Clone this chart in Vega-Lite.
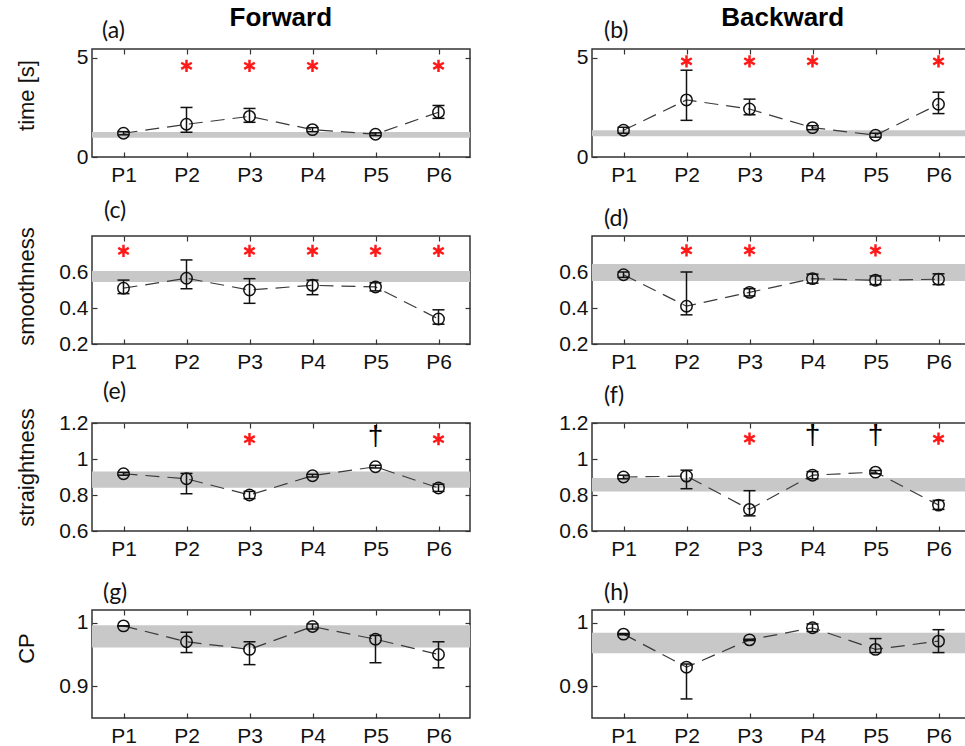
{
  "$schema": "https://vega.github.io/schema/vega-lite/v6.json",
  "background": "white",
  "padding": {"left": 14, "top": 5, "right": 0, "bottom": 0},
  "datasets": {
    "pts": [
      {"panel": "a", "p": "P1", "m": 1.2, "lo": 1.12, "hi": 1.28},
      {"panel": "a", "p": "P2", "m": 1.65, "lo": 1.25, "hi": 2.5},
      {"panel": "a", "p": "P3", "m": 2.05, "lo": 1.75, "hi": 2.45},
      {"panel": "a", "p": "P4", "m": 1.38, "lo": 1.28, "hi": 1.48},
      {"panel": "a", "p": "P5", "m": 1.15, "lo": 1.08, "hi": 1.22},
      {"panel": "a", "p": "P6", "m": 2.26, "lo": 1.95, "hi": 2.6},
      {"panel": "b", "p": "P1", "m": 1.35, "lo": 1.2, "hi": 1.5},
      {"panel": "b", "p": "P2", "m": 2.88, "lo": 1.85, "hi": 4.38},
      {"panel": "b", "p": "P3", "m": 2.42, "lo": 2.13, "hi": 2.92},
      {"panel": "b", "p": "P4", "m": 1.48, "lo": 1.38, "hi": 1.58},
      {"panel": "b", "p": "P5", "m": 1.1, "lo": 1.0, "hi": 1.2},
      {"panel": "b", "p": "P6", "m": 2.66, "lo": 2.19, "hi": 3.27},
      {"panel": "c", "p": "P1", "m": 0.51, "lo": 0.48, "hi": 0.555},
      {"panel": "c", "p": "P2", "m": 0.565, "lo": 0.507, "hi": 0.667},
      {"panel": "c", "p": "P3", "m": 0.5, "lo": 0.426, "hi": 0.563},
      {"panel": "c", "p": "P4", "m": 0.526, "lo": 0.474, "hi": 0.555},
      {"panel": "c", "p": "P5", "m": 0.517, "lo": 0.495, "hi": 0.54},
      {"panel": "c", "p": "P6", "m": 0.339, "lo": 0.31, "hi": 0.39},
      {"panel": "d", "p": "P1", "m": 0.585, "lo": 0.57, "hi": 0.6},
      {"panel": "d", "p": "P2", "m": 0.41, "lo": 0.362, "hi": 0.6},
      {"panel": "d", "p": "P3", "m": 0.487, "lo": 0.467, "hi": 0.507},
      {"panel": "d", "p": "P4", "m": 0.563, "lo": 0.538, "hi": 0.588},
      {"panel": "d", "p": "P5", "m": 0.554, "lo": 0.53, "hi": 0.578},
      {"panel": "d", "p": "P6", "m": 0.56, "lo": 0.53, "hi": 0.59},
      {"panel": "e", "p": "P1", "m": 0.918, "lo": 0.91, "hi": 0.926},
      {"panel": "e", "p": "P2", "m": 0.89, "lo": 0.807, "hi": 0.92},
      {"panel": "e", "p": "P3", "m": 0.8, "lo": 0.78, "hi": 0.82},
      {"panel": "e", "p": "P4", "m": 0.907, "lo": 0.9, "hi": 0.915},
      {"panel": "e", "p": "P5", "m": 0.957, "lo": 0.95, "hi": 0.965},
      {"panel": "e", "p": "P6", "m": 0.839, "lo": 0.82, "hi": 0.86},
      {"panel": "f", "p": "P1", "m": 0.9, "lo": 0.89, "hi": 0.91},
      {"panel": "f", "p": "P2", "m": 0.905, "lo": 0.835, "hi": 0.938},
      {"panel": "f", "p": "P3", "m": 0.72, "lo": 0.684, "hi": 0.824},
      {"panel": "f", "p": "P4", "m": 0.91, "lo": 0.89, "hi": 0.93},
      {"panel": "f", "p": "P5", "m": 0.927, "lo": 0.918, "hi": 0.936},
      {"panel": "f", "p": "P6", "m": 0.744, "lo": 0.72, "hi": 0.77},
      {"panel": "g", "p": "P1", "m": 0.995, "lo": 0.995, "hi": 0.995},
      {"panel": "g", "p": "P2", "m": 0.97, "lo": 0.953, "hi": 0.985},
      {"panel": "g", "p": "P3", "m": 0.958, "lo": 0.934, "hi": 0.97},
      {"panel": "g", "p": "P4", "m": 0.994, "lo": 0.99, "hi": 0.998},
      {"panel": "g", "p": "P5", "m": 0.974, "lo": 0.937, "hi": 0.98},
      {"panel": "g", "p": "P6", "m": 0.95, "lo": 0.929, "hi": 0.97},
      {"panel": "h", "p": "P1", "m": 0.982, "lo": 0.981, "hi": 0.983},
      {"panel": "h", "p": "P2", "m": 0.93, "lo": 0.88, "hi": 0.935},
      {"panel": "h", "p": "P3", "m": 0.973, "lo": 0.972, "hi": 0.974},
      {"panel": "h", "p": "P4", "m": 0.992, "lo": 0.986, "hi": 0.998},
      {"panel": "h", "p": "P5", "m": 0.958, "lo": 0.953, "hi": 0.975},
      {"panel": "h", "p": "P6", "m": 0.971, "lo": 0.953, "hi": 0.989}
    ],
    "bands": [
      {"panel": "a", "lo": 0.97, "hi": 1.26},
      {"panel": "b", "lo": 1.05, "hi": 1.35},
      {"panel": "c", "lo": 0.545, "hi": 0.605},
      {"panel": "d", "lo": 0.55, "hi": 0.645},
      {"panel": "e", "lo": 0.84, "hi": 0.93},
      {"panel": "f", "lo": 0.82, "hi": 0.895},
      {"panel": "g", "lo": 0.961, "hi": 0.996},
      {"panel": "h", "lo": 0.952, "hi": 0.984}
    ],
    "sig": [
      {"panel": "a", "p": "P2", "y": 4.6, "s": "star"},
      {"panel": "a", "p": "P3", "y": 4.6, "s": "star"},
      {"panel": "a", "p": "P4", "y": 4.6, "s": "star"},
      {"panel": "a", "p": "P6", "y": 4.6, "s": "star"},
      {"panel": "b", "p": "P2", "y": 4.83, "s": "star"},
      {"panel": "b", "p": "P3", "y": 4.83, "s": "star"},
      {"panel": "b", "p": "P4", "y": 4.83, "s": "star"},
      {"panel": "b", "p": "P6", "y": 4.83, "s": "star"},
      {"panel": "c", "p": "P1", "y": 0.717, "s": "star"},
      {"panel": "c", "p": "P3", "y": 0.717, "s": "star"},
      {"panel": "c", "p": "P4", "y": 0.717, "s": "star"},
      {"panel": "c", "p": "P5", "y": 0.717, "s": "star"},
      {"panel": "c", "p": "P6", "y": 0.717, "s": "star"},
      {"panel": "d", "p": "P2", "y": 0.72, "s": "star"},
      {"panel": "d", "p": "P3", "y": 0.72, "s": "star"},
      {"panel": "d", "p": "P5", "y": 0.72, "s": "star"},
      {"panel": "e", "p": "P3", "y": 1.11, "s": "star"},
      {"panel": "e", "p": "P6", "y": 1.11, "s": "star"},
      {"panel": "e", "p": "P5", "y": 1.12, "s": "†"},
      {"panel": "f", "p": "P3", "y": 1.113, "s": "star"},
      {"panel": "f", "p": "P6", "y": 1.113, "s": "star"},
      {"panel": "f", "p": "P4", "y": 1.13, "s": "†"},
      {"panel": "f", "p": "P5", "y": 1.13, "s": "†"}
    ]
  },
  "spacing": 86,
  "hconcat": [
    {
      "title": {"text": "Forward", "fontSize": 26, "fontWeight": "bold", "anchor": "middle", "frame": "bounds", "dx": 38, "offset": -12, "font": "Liberation Sans", "color": "#000"},
      "spacing": 79,
      "bounds": "flush",
      "vconcat": [
        {
          "width": 378, "height": 108,
          "title": {"text": "(a)", "dx": 10},
          "resolve": {"axis": {"x": "independent", "y": "independent"}},
          "layer": [
            {"data": {"name": "bands"}, "transform": [{"filter": "datum.panel == 'a'"}], "mark": {"type": "rect", "color": "#c8c8c8"}, "encoding": {"x": {"value": 0}, "x2": {"value": "width"}, "y": {"field": "lo", "type": "quantitative", "scale": {"domain": [0, 5.45], "nice": false, "zero": false}, "axis": null}, "y2": {"field": "hi"}}},
            {"data": {"name": "pts"}, "transform": [{"filter": "datum.panel == 'a'"}], "mark": {"type": "line", "stroke": "#3a3a3a", "strokeWidth": 1.2, "strokeDash": [14, 8]}, "encoding": {"x": {"field": "p", "type": "ordinal", "scale": {"type": "point", "domain": ["P1", "P2", "P3", "P4", "P5", "P6"], "padding": 0.5}, "axis": {"orient": "bottom", "title": null, "labelAngle": 0, "labelPadding": 12}}, "y": {"field": "m", "type": "quantitative", "scale": {"domain": [0, 5.45], "nice": false, "zero": false}, "axis": {"orient": "left", "values": [0, 5], "format": "~g", "title": "time [s]", "titleX": -59, "titleY": 46}}}},
            {"data": {"name": "pts"}, "transform": [{"filter": "datum.panel == 'a'"}], "mark": {"type": "rule", "stroke": "#111", "strokeWidth": 1.5}, "encoding": {"x": {"field": "p", "type": "ordinal", "scale": {"type": "point", "domain": ["P1", "P2", "P3", "P4", "P5", "P6"], "padding": 0.5}, "axis": null}, "y": {"field": "lo", "type": "quantitative", "scale": {"domain": [0, 5.45], "nice": false, "zero": false}, "axis": null}, "y2": {"field": "hi"}}},
            {"data": {"name": "pts"}, "transform": [{"filter": "datum.panel == 'a'"}, {"fold": ["lo", "hi"], "as": ["k", "v"]}], "mark": {"type": "tick", "color": "#111", "size": 12, "thickness": 1.5, "orient": "horizontal", "opacity": 1}, "encoding": {"x": {"field": "p", "type": "ordinal", "scale": {"type": "point", "domain": ["P1", "P2", "P3", "P4", "P5", "P6"], "padding": 0.5}, "axis": null}, "y": {"field": "v", "type": "quantitative", "scale": {"domain": [0, 5.45], "nice": false, "zero": false}, "axis": null}}},
            {"data": {"name": "pts"}, "transform": [{"filter": "datum.panel == 'a'"}], "mark": {"type": "point", "shape": "circle", "filled": false, "size": 130, "stroke": "#111", "strokeWidth": 1.5, "opacity": 1}, "encoding": {"x": {"field": "p", "type": "ordinal", "scale": {"type": "point", "domain": ["P1", "P2", "P3", "P4", "P5", "P6"], "padding": 0.5}, "axis": {"orient": "top", "title": null, "labels": false}}, "y": {"field": "m", "type": "quantitative", "scale": {"domain": [0, 5.45], "nice": false, "zero": false}, "axis": {"orient": "right", "values": [0, 5], "labels": false, "title": null}}}},
            {"data": {"name": "sig"}, "transform": [{"filter": "datum.panel == 'a' && datum.s == 'star'"}], "mark": {"type": "point", "shape": "M0,-1L0,1M-0.866,-0.5L0.866,0.5M-0.866,0.5L0.866,-0.5", "filled": false, "stroke": "#ff1a1a", "strokeWidth": 2.5, "size": 150, "opacity": 1}, "encoding": {"x": {"field": "p", "type": "ordinal", "scale": {"type": "point", "domain": ["P1", "P2", "P3", "P4", "P5", "P6"], "padding": 0.5}, "axis": null}, "y": {"field": "y", "type": "quantitative", "scale": {"domain": [0, 5.45], "nice": false, "zero": false}, "axis": null}}}
          ]
        },
        {
          "width": 378, "height": 108,
          "title": {"text": "(c)", "dx": 12},
          "resolve": {"axis": {"x": "independent", "y": "independent"}},
          "layer": [
            {"data": {"name": "bands"}, "transform": [{"filter": "datum.panel == 'c'"}], "mark": {"type": "rect", "color": "#c8c8c8"}, "encoding": {"x": {"value": 0}, "x2": {"value": "width"}, "y": {"field": "lo", "type": "quantitative", "scale": {"domain": [0.2, 0.8], "nice": false, "zero": false}, "axis": null}, "y2": {"field": "hi"}}},
            {"data": {"name": "pts"}, "transform": [{"filter": "datum.panel == 'c'"}], "mark": {"type": "line", "stroke": "#3a3a3a", "strokeWidth": 1.2, "strokeDash": [14, 8]}, "encoding": {"x": {"field": "p", "type": "ordinal", "scale": {"type": "point", "domain": ["P1", "P2", "P3", "P4", "P5", "P6"], "padding": 0.5}, "axis": {"orient": "bottom", "title": null, "labelAngle": 0, "labelPadding": 12}}, "y": {"field": "m", "type": "quantitative", "scale": {"domain": [0.2, 0.8], "nice": false, "zero": false}, "axis": {"orient": "left", "values": [0.2, 0.4, 0.6], "format": "~g", "title": "smoothness", "titleX": -59, "titleY": 50}}}},
            {"data": {"name": "pts"}, "transform": [{"filter": "datum.panel == 'c'"}], "mark": {"type": "rule", "stroke": "#111", "strokeWidth": 1.5}, "encoding": {"x": {"field": "p", "type": "ordinal", "scale": {"type": "point", "domain": ["P1", "P2", "P3", "P4", "P5", "P6"], "padding": 0.5}, "axis": null}, "y": {"field": "lo", "type": "quantitative", "scale": {"domain": [0.2, 0.8], "nice": false, "zero": false}, "axis": null}, "y2": {"field": "hi"}}},
            {"data": {"name": "pts"}, "transform": [{"filter": "datum.panel == 'c'"}, {"fold": ["lo", "hi"], "as": ["k", "v"]}], "mark": {"type": "tick", "color": "#111", "size": 12, "thickness": 1.5, "orient": "horizontal", "opacity": 1}, "encoding": {"x": {"field": "p", "type": "ordinal", "scale": {"type": "point", "domain": ["P1", "P2", "P3", "P4", "P5", "P6"], "padding": 0.5}, "axis": null}, "y": {"field": "v", "type": "quantitative", "scale": {"domain": [0.2, 0.8], "nice": false, "zero": false}, "axis": null}}},
            {"data": {"name": "pts"}, "transform": [{"filter": "datum.panel == 'c'"}], "mark": {"type": "point", "shape": "circle", "filled": false, "size": 130, "stroke": "#111", "strokeWidth": 1.5, "opacity": 1}, "encoding": {"x": {"field": "p", "type": "ordinal", "scale": {"type": "point", "domain": ["P1", "P2", "P3", "P4", "P5", "P6"], "padding": 0.5}, "axis": {"orient": "top", "title": null, "labels": false}}, "y": {"field": "m", "type": "quantitative", "scale": {"domain": [0.2, 0.8], "nice": false, "zero": false}, "axis": {"orient": "right", "values": [0.2, 0.4, 0.6], "labels": false, "title": null}}}},
            {"data": {"name": "sig"}, "transform": [{"filter": "datum.panel == 'c' && datum.s == 'star'"}], "mark": {"type": "point", "shape": "M0,-1L0,1M-0.866,-0.5L0.866,0.5M-0.866,0.5L0.866,-0.5", "filled": false, "stroke": "#ff1a1a", "strokeWidth": 2.5, "size": 150, "opacity": 1}, "encoding": {"x": {"field": "p", "type": "ordinal", "scale": {"type": "point", "domain": ["P1", "P2", "P3", "P4", "P5", "P6"], "padding": 0.5}, "axis": null}, "y": {"field": "y", "type": "quantitative", "scale": {"domain": [0.2, 0.8], "nice": false, "zero": false}, "axis": null}}}
          ]
        },
        {
          "width": 378, "height": 108,
          "title": {"text": "(e)", "dx": 11},
          "resolve": {"axis": {"x": "independent", "y": "independent"}},
          "layer": [
            {"data": {"name": "bands"}, "transform": [{"filter": "datum.panel == 'e'"}], "mark": {"type": "rect", "color": "#c8c8c8"}, "encoding": {"x": {"value": 0}, "x2": {"value": "width"}, "y": {"field": "lo", "type": "quantitative", "scale": {"domain": [0.6, 1.2], "nice": false, "zero": false}, "axis": null}, "y2": {"field": "hi"}}},
            {"data": {"name": "pts"}, "transform": [{"filter": "datum.panel == 'e'"}], "mark": {"type": "line", "stroke": "#3a3a3a", "strokeWidth": 1.2, "strokeDash": [14, 8]}, "encoding": {"x": {"field": "p", "type": "ordinal", "scale": {"type": "point", "domain": ["P1", "P2", "P3", "P4", "P5", "P6"], "padding": 0.5}, "axis": {"orient": "bottom", "title": null, "labelAngle": 0, "labelPadding": 12}}, "y": {"field": "m", "type": "quantitative", "scale": {"domain": [0.6, 1.2], "nice": false, "zero": false}, "axis": {"orient": "left", "values": [0.6, 0.8, 1, 1.2], "format": "~g", "title": "straightness", "titleX": -59, "titleY": 44}}}},
            {"data": {"name": "pts"}, "transform": [{"filter": "datum.panel == 'e'"}], "mark": {"type": "rule", "stroke": "#111", "strokeWidth": 1.5}, "encoding": {"x": {"field": "p", "type": "ordinal", "scale": {"type": "point", "domain": ["P1", "P2", "P3", "P4", "P5", "P6"], "padding": 0.5}, "axis": null}, "y": {"field": "lo", "type": "quantitative", "scale": {"domain": [0.6, 1.2], "nice": false, "zero": false}, "axis": null}, "y2": {"field": "hi"}}},
            {"data": {"name": "pts"}, "transform": [{"filter": "datum.panel == 'e'"}, {"fold": ["lo", "hi"], "as": ["k", "v"]}], "mark": {"type": "tick", "color": "#111", "size": 12, "thickness": 1.5, "orient": "horizontal", "opacity": 1}, "encoding": {"x": {"field": "p", "type": "ordinal", "scale": {"type": "point", "domain": ["P1", "P2", "P3", "P4", "P5", "P6"], "padding": 0.5}, "axis": null}, "y": {"field": "v", "type": "quantitative", "scale": {"domain": [0.6, 1.2], "nice": false, "zero": false}, "axis": null}}},
            {"data": {"name": "pts"}, "transform": [{"filter": "datum.panel == 'e'"}], "mark": {"type": "point", "shape": "circle", "filled": false, "size": 130, "stroke": "#111", "strokeWidth": 1.5, "opacity": 1}, "encoding": {"x": {"field": "p", "type": "ordinal", "scale": {"type": "point", "domain": ["P1", "P2", "P3", "P4", "P5", "P6"], "padding": 0.5}, "axis": {"orient": "top", "title": null, "labels": false}}, "y": {"field": "m", "type": "quantitative", "scale": {"domain": [0.6, 1.2], "nice": false, "zero": false}, "axis": {"orient": "right", "values": [0.6, 0.8, 1, 1.2], "labels": false, "title": null}}}},
            {"data": {"name": "sig"}, "transform": [{"filter": "datum.panel == 'e' && datum.s == 'star'"}], "mark": {"type": "point", "shape": "M0,-1L0,1M-0.866,-0.5L0.866,0.5M-0.866,0.5L0.866,-0.5", "filled": false, "stroke": "#ff1a1a", "strokeWidth": 2.5, "size": 150, "opacity": 1}, "encoding": {"x": {"field": "p", "type": "ordinal", "scale": {"type": "point", "domain": ["P1", "P2", "P3", "P4", "P5", "P6"], "padding": 0.5}, "axis": null}, "y": {"field": "y", "type": "quantitative", "scale": {"domain": [0.6, 1.2], "nice": false, "zero": false}, "axis": null}}},
            {"data": {"name": "sig"}, "transform": [{"filter": "datum.panel == 'e' && datum.s != 'star'"}], "mark": {"type": "text", "fontSize": 28, "font": "Liberation Sans", "color": "#000", "baseline": "middle", "align": "center"}, "encoding": {"text": {"field": "s"}, "x": {"field": "p", "type": "ordinal", "scale": {"type": "point", "domain": ["P1", "P2", "P3", "P4", "P5", "P6"], "padding": 0.5}, "axis": null}, "y": {"field": "y", "type": "quantitative", "scale": {"domain": [0.6, 1.2], "nice": false, "zero": false}, "axis": null}}}
          ]
        },
        {
          "width": 378, "height": 108,
          "title": {"text": "(g)", "dx": 11},
          "resolve": {"axis": {"x": "independent", "y": "independent"}},
          "layer": [
            {"data": {"name": "bands"}, "transform": [{"filter": "datum.panel == 'g'"}], "mark": {"type": "rect", "color": "#c8c8c8"}, "encoding": {"x": {"value": 0}, "x2": {"value": "width"}, "y": {"field": "lo", "type": "quantitative", "scale": {"domain": [0.85, 1.02], "nice": false, "zero": false}, "axis": null}, "y2": {"field": "hi"}}},
            {"data": {"name": "pts"}, "transform": [{"filter": "datum.panel == 'g'"}], "mark": {"type": "line", "stroke": "#3a3a3a", "strokeWidth": 1.2, "strokeDash": [14, 8]}, "encoding": {"x": {"field": "p", "type": "ordinal", "scale": {"type": "point", "domain": ["P1", "P2", "P3", "P4", "P5", "P6"], "padding": 0.5}, "axis": {"orient": "bottom", "title": null, "labelAngle": 0, "labelPadding": 12}}, "y": {"field": "m", "type": "quantitative", "scale": {"domain": [0.85, 1.02], "nice": false, "zero": false}, "axis": {"orient": "left", "values": [0.9, 1], "format": "~g", "title": "CP", "titleX": -59, "titleY": 38}}}},
            {"data": {"name": "pts"}, "transform": [{"filter": "datum.panel == 'g'"}], "mark": {"type": "rule", "stroke": "#111", "strokeWidth": 1.5}, "encoding": {"x": {"field": "p", "type": "ordinal", "scale": {"type": "point", "domain": ["P1", "P2", "P3", "P4", "P5", "P6"], "padding": 0.5}, "axis": null}, "y": {"field": "lo", "type": "quantitative", "scale": {"domain": [0.85, 1.02], "nice": false, "zero": false}, "axis": null}, "y2": {"field": "hi"}}},
            {"data": {"name": "pts"}, "transform": [{"filter": "datum.panel == 'g'"}, {"fold": ["lo", "hi"], "as": ["k", "v"]}], "mark": {"type": "tick", "color": "#111", "size": 12, "thickness": 1.5, "orient": "horizontal", "opacity": 1}, "encoding": {"x": {"field": "p", "type": "ordinal", "scale": {"type": "point", "domain": ["P1", "P2", "P3", "P4", "P5", "P6"], "padding": 0.5}, "axis": null}, "y": {"field": "v", "type": "quantitative", "scale": {"domain": [0.85, 1.02], "nice": false, "zero": false}, "axis": null}}},
            {"data": {"name": "pts"}, "transform": [{"filter": "datum.panel == 'g'"}], "mark": {"type": "point", "shape": "circle", "filled": false, "size": 130, "stroke": "#111", "strokeWidth": 1.5, "opacity": 1}, "encoding": {"x": {"field": "p", "type": "ordinal", "scale": {"type": "point", "domain": ["P1", "P2", "P3", "P4", "P5", "P6"], "padding": 0.5}, "axis": {"orient": "top", "title": null, "labels": false}}, "y": {"field": "m", "type": "quantitative", "scale": {"domain": [0.85, 1.02], "nice": false, "zero": false}, "axis": {"orient": "right", "values": [0.9, 1], "labels": false, "title": null}}}}
          ]
        }
      ]
    },
    {
      "title": {"text": "Backward", "fontSize": 26, "fontWeight": "bold", "anchor": "middle", "frame": "bounds", "dx": 18, "offset": -12, "font": "Liberation Sans", "color": "#000"},
      "spacing": 79,
      "bounds": "flush",
      "vconcat": [
        {
          "width": 378, "height": 108,
          "title": {"text": "(b)", "dx": 12},
          "resolve": {"axis": {"x": "independent", "y": "independent"}},
          "layer": [
            {"data": {"name": "bands"}, "transform": [{"filter": "datum.panel == 'b'"}], "mark": {"type": "rect", "color": "#c8c8c8"}, "encoding": {"x": {"value": 0}, "x2": {"value": "width"}, "y": {"field": "lo", "type": "quantitative", "scale": {"domain": [0, 5.45], "nice": false, "zero": false}, "axis": null}, "y2": {"field": "hi"}}},
            {"data": {"name": "pts"}, "transform": [{"filter": "datum.panel == 'b'"}], "mark": {"type": "line", "stroke": "#3a3a3a", "strokeWidth": 1.2, "strokeDash": [14, 8]}, "encoding": {"x": {"field": "p", "type": "ordinal", "scale": {"type": "point", "domain": ["P1", "P2", "P3", "P4", "P5", "P6"], "padding": 0.5}, "axis": {"orient": "bottom", "title": null, "labelAngle": 0, "labelPadding": 12}}, "y": {"field": "m", "type": "quantitative", "scale": {"domain": [0, 5.45], "nice": false, "zero": false}, "axis": {"orient": "left", "values": [0, 5], "format": "~g", "title": null}}}},
            {"data": {"name": "pts"}, "transform": [{"filter": "datum.panel == 'b'"}], "mark": {"type": "rule", "stroke": "#111", "strokeWidth": 1.5}, "encoding": {"x": {"field": "p", "type": "ordinal", "scale": {"type": "point", "domain": ["P1", "P2", "P3", "P4", "P5", "P6"], "padding": 0.5}, "axis": null}, "y": {"field": "lo", "type": "quantitative", "scale": {"domain": [0, 5.45], "nice": false, "zero": false}, "axis": null}, "y2": {"field": "hi"}}},
            {"data": {"name": "pts"}, "transform": [{"filter": "datum.panel == 'b'"}, {"fold": ["lo", "hi"], "as": ["k", "v"]}], "mark": {"type": "tick", "color": "#111", "size": 12, "thickness": 1.5, "orient": "horizontal", "opacity": 1}, "encoding": {"x": {"field": "p", "type": "ordinal", "scale": {"type": "point", "domain": ["P1", "P2", "P3", "P4", "P5", "P6"], "padding": 0.5}, "axis": null}, "y": {"field": "v", "type": "quantitative", "scale": {"domain": [0, 5.45], "nice": false, "zero": false}, "axis": null}}},
            {"data": {"name": "pts"}, "transform": [{"filter": "datum.panel == 'b'"}], "mark": {"type": "point", "shape": "circle", "filled": false, "size": 130, "stroke": "#111", "strokeWidth": 1.5, "opacity": 1}, "encoding": {"x": {"field": "p", "type": "ordinal", "scale": {"type": "point", "domain": ["P1", "P2", "P3", "P4", "P5", "P6"], "padding": 0.5}, "axis": {"orient": "top", "title": null, "labels": false}}, "y": {"field": "m", "type": "quantitative", "scale": {"domain": [0, 5.45], "nice": false, "zero": false}, "axis": {"orient": "right", "values": [0, 5], "labels": false, "title": null}}}},
            {"data": {"name": "sig"}, "transform": [{"filter": "datum.panel == 'b' && datum.s == 'star'"}], "mark": {"type": "point", "shape": "M0,-1L0,1M-0.866,-0.5L0.866,0.5M-0.866,0.5L0.866,-0.5", "filled": false, "stroke": "#ff1a1a", "strokeWidth": 2.5, "size": 150, "opacity": 1}, "encoding": {"x": {"field": "p", "type": "ordinal", "scale": {"type": "point", "domain": ["P1", "P2", "P3", "P4", "P5", "P6"], "padding": 0.5}, "axis": null}, "y": {"field": "y", "type": "quantitative", "scale": {"domain": [0, 5.45], "nice": false, "zero": false}, "axis": null}}}
          ]
        },
        {
          "width": 378, "height": 108,
          "title": {"text": "(d)", "dx": 12},
          "resolve": {"axis": {"x": "independent", "y": "independent"}},
          "layer": [
            {"data": {"name": "bands"}, "transform": [{"filter": "datum.panel == 'd'"}], "mark": {"type": "rect", "color": "#c8c8c8"}, "encoding": {"x": {"value": 0}, "x2": {"value": "width"}, "y": {"field": "lo", "type": "quantitative", "scale": {"domain": [0.2, 0.8], "nice": false, "zero": false}, "axis": null}, "y2": {"field": "hi"}}},
            {"data": {"name": "pts"}, "transform": [{"filter": "datum.panel == 'd'"}], "mark": {"type": "line", "stroke": "#3a3a3a", "strokeWidth": 1.2, "strokeDash": [14, 8]}, "encoding": {"x": {"field": "p", "type": "ordinal", "scale": {"type": "point", "domain": ["P1", "P2", "P3", "P4", "P5", "P6"], "padding": 0.5}, "axis": {"orient": "bottom", "title": null, "labelAngle": 0, "labelPadding": 12}}, "y": {"field": "m", "type": "quantitative", "scale": {"domain": [0.2, 0.8], "nice": false, "zero": false}, "axis": {"orient": "left", "values": [0.2, 0.4, 0.6], "format": "~g", "title": null}}}},
            {"data": {"name": "pts"}, "transform": [{"filter": "datum.panel == 'd'"}], "mark": {"type": "rule", "stroke": "#111", "strokeWidth": 1.5}, "encoding": {"x": {"field": "p", "type": "ordinal", "scale": {"type": "point", "domain": ["P1", "P2", "P3", "P4", "P5", "P6"], "padding": 0.5}, "axis": null}, "y": {"field": "lo", "type": "quantitative", "scale": {"domain": [0.2, 0.8], "nice": false, "zero": false}, "axis": null}, "y2": {"field": "hi"}}},
            {"data": {"name": "pts"}, "transform": [{"filter": "datum.panel == 'd'"}, {"fold": ["lo", "hi"], "as": ["k", "v"]}], "mark": {"type": "tick", "color": "#111", "size": 12, "thickness": 1.5, "orient": "horizontal", "opacity": 1}, "encoding": {"x": {"field": "p", "type": "ordinal", "scale": {"type": "point", "domain": ["P1", "P2", "P3", "P4", "P5", "P6"], "padding": 0.5}, "axis": null}, "y": {"field": "v", "type": "quantitative", "scale": {"domain": [0.2, 0.8], "nice": false, "zero": false}, "axis": null}}},
            {"data": {"name": "pts"}, "transform": [{"filter": "datum.panel == 'd'"}], "mark": {"type": "point", "shape": "circle", "filled": false, "size": 130, "stroke": "#111", "strokeWidth": 1.5, "opacity": 1}, "encoding": {"x": {"field": "p", "type": "ordinal", "scale": {"type": "point", "domain": ["P1", "P2", "P3", "P4", "P5", "P6"], "padding": 0.5}, "axis": {"orient": "top", "title": null, "labels": false}}, "y": {"field": "m", "type": "quantitative", "scale": {"domain": [0.2, 0.8], "nice": false, "zero": false}, "axis": {"orient": "right", "values": [0.2, 0.4, 0.6], "labels": false, "title": null}}}},
            {"data": {"name": "sig"}, "transform": [{"filter": "datum.panel == 'd' && datum.s == 'star'"}], "mark": {"type": "point", "shape": "M0,-1L0,1M-0.866,-0.5L0.866,0.5M-0.866,0.5L0.866,-0.5", "filled": false, "stroke": "#ff1a1a", "strokeWidth": 2.5, "size": 150, "opacity": 1}, "encoding": {"x": {"field": "p", "type": "ordinal", "scale": {"type": "point", "domain": ["P1", "P2", "P3", "P4", "P5", "P6"], "padding": 0.5}, "axis": null}, "y": {"field": "y", "type": "quantitative", "scale": {"domain": [0.2, 0.8], "nice": false, "zero": false}, "axis": null}}}
          ]
        },
        {
          "width": 378, "height": 108,
          "title": {"text": "(f)", "dx": 12},
          "resolve": {"axis": {"x": "independent", "y": "independent"}},
          "layer": [
            {"data": {"name": "bands"}, "transform": [{"filter": "datum.panel == 'f'"}], "mark": {"type": "rect", "color": "#c8c8c8"}, "encoding": {"x": {"value": 0}, "x2": {"value": "width"}, "y": {"field": "lo", "type": "quantitative", "scale": {"domain": [0.6, 1.2], "nice": false, "zero": false}, "axis": null}, "y2": {"field": "hi"}}},
            {"data": {"name": "pts"}, "transform": [{"filter": "datum.panel == 'f'"}], "mark": {"type": "line", "stroke": "#3a3a3a", "strokeWidth": 1.2, "strokeDash": [14, 8]}, "encoding": {"x": {"field": "p", "type": "ordinal", "scale": {"type": "point", "domain": ["P1", "P2", "P3", "P4", "P5", "P6"], "padding": 0.5}, "axis": {"orient": "bottom", "title": null, "labelAngle": 0, "labelPadding": 12}}, "y": {"field": "m", "type": "quantitative", "scale": {"domain": [0.6, 1.2], "nice": false, "zero": false}, "axis": {"orient": "left", "values": [0.6, 0.8, 1, 1.2], "format": "~g", "title": null}}}},
            {"data": {"name": "pts"}, "transform": [{"filter": "datum.panel == 'f'"}], "mark": {"type": "rule", "stroke": "#111", "strokeWidth": 1.5}, "encoding": {"x": {"field": "p", "type": "ordinal", "scale": {"type": "point", "domain": ["P1", "P2", "P3", "P4", "P5", "P6"], "padding": 0.5}, "axis": null}, "y": {"field": "lo", "type": "quantitative", "scale": {"domain": [0.6, 1.2], "nice": false, "zero": false}, "axis": null}, "y2": {"field": "hi"}}},
            {"data": {"name": "pts"}, "transform": [{"filter": "datum.panel == 'f'"}, {"fold": ["lo", "hi"], "as": ["k", "v"]}], "mark": {"type": "tick", "color": "#111", "size": 12, "thickness": 1.5, "orient": "horizontal", "opacity": 1}, "encoding": {"x": {"field": "p", "type": "ordinal", "scale": {"type": "point", "domain": ["P1", "P2", "P3", "P4", "P5", "P6"], "padding": 0.5}, "axis": null}, "y": {"field": "v", "type": "quantitative", "scale": {"domain": [0.6, 1.2], "nice": false, "zero": false}, "axis": null}}},
            {"data": {"name": "pts"}, "transform": [{"filter": "datum.panel == 'f'"}], "mark": {"type": "point", "shape": "circle", "filled": false, "size": 130, "stroke": "#111", "strokeWidth": 1.5, "opacity": 1}, "encoding": {"x": {"field": "p", "type": "ordinal", "scale": {"type": "point", "domain": ["P1", "P2", "P3", "P4", "P5", "P6"], "padding": 0.5}, "axis": {"orient": "top", "title": null, "labels": false}}, "y": {"field": "m", "type": "quantitative", "scale": {"domain": [0.6, 1.2], "nice": false, "zero": false}, "axis": {"orient": "right", "values": [0.6, 0.8, 1, 1.2], "labels": false, "title": null}}}},
            {"data": {"name": "sig"}, "transform": [{"filter": "datum.panel == 'f' && datum.s == 'star'"}], "mark": {"type": "point", "shape": "M0,-1L0,1M-0.866,-0.5L0.866,0.5M-0.866,0.5L0.866,-0.5", "filled": false, "stroke": "#ff1a1a", "strokeWidth": 2.5, "size": 150, "opacity": 1}, "encoding": {"x": {"field": "p", "type": "ordinal", "scale": {"type": "point", "domain": ["P1", "P2", "P3", "P4", "P5", "P6"], "padding": 0.5}, "axis": null}, "y": {"field": "y", "type": "quantitative", "scale": {"domain": [0.6, 1.2], "nice": false, "zero": false}, "axis": null}}},
            {"data": {"name": "sig"}, "transform": [{"filter": "datum.panel == 'f' && datum.s != 'star'"}], "mark": {"type": "text", "fontSize": 28, "font": "Liberation Sans", "color": "#000", "baseline": "middle", "align": "center"}, "encoding": {"text": {"field": "s"}, "x": {"field": "p", "type": "ordinal", "scale": {"type": "point", "domain": ["P1", "P2", "P3", "P4", "P5", "P6"], "padding": 0.5}, "axis": null}, "y": {"field": "y", "type": "quantitative", "scale": {"domain": [0.6, 1.2], "nice": false, "zero": false}, "axis": null}}}
          ]
        },
        {
          "width": 378, "height": 108,
          "title": {"text": "(h)", "dx": 12},
          "resolve": {"axis": {"x": "independent", "y": "independent"}},
          "layer": [
            {"data": {"name": "bands"}, "transform": [{"filter": "datum.panel == 'h'"}], "mark": {"type": "rect", "color": "#c8c8c8"}, "encoding": {"x": {"value": 0}, "x2": {"value": "width"}, "y": {"field": "lo", "type": "quantitative", "scale": {"domain": [0.85, 1.02], "nice": false, "zero": false}, "axis": null}, "y2": {"field": "hi"}}},
            {"data": {"name": "pts"}, "transform": [{"filter": "datum.panel == 'h'"}], "mark": {"type": "line", "stroke": "#3a3a3a", "strokeWidth": 1.2, "strokeDash": [14, 8]}, "encoding": {"x": {"field": "p", "type": "ordinal", "scale": {"type": "point", "domain": ["P1", "P2", "P3", "P4", "P5", "P6"], "padding": 0.5}, "axis": {"orient": "bottom", "title": null, "labelAngle": 0, "labelPadding": 12}}, "y": {"field": "m", "type": "quantitative", "scale": {"domain": [0.85, 1.02], "nice": false, "zero": false}, "axis": {"orient": "left", "values": [0.9, 1], "format": "~g", "title": null}}}},
            {"data": {"name": "pts"}, "transform": [{"filter": "datum.panel == 'h'"}], "mark": {"type": "rule", "stroke": "#111", "strokeWidth": 1.5}, "encoding": {"x": {"field": "p", "type": "ordinal", "scale": {"type": "point", "domain": ["P1", "P2", "P3", "P4", "P5", "P6"], "padding": 0.5}, "axis": null}, "y": {"field": "lo", "type": "quantitative", "scale": {"domain": [0.85, 1.02], "nice": false, "zero": false}, "axis": null}, "y2": {"field": "hi"}}},
            {"data": {"name": "pts"}, "transform": [{"filter": "datum.panel == 'h'"}, {"fold": ["lo", "hi"], "as": ["k", "v"]}], "mark": {"type": "tick", "color": "#111", "size": 12, "thickness": 1.5, "orient": "horizontal", "opacity": 1}, "encoding": {"x": {"field": "p", "type": "ordinal", "scale": {"type": "point", "domain": ["P1", "P2", "P3", "P4", "P5", "P6"], "padding": 0.5}, "axis": null}, "y": {"field": "v", "type": "quantitative", "scale": {"domain": [0.85, 1.02], "nice": false, "zero": false}, "axis": null}}},
            {"data": {"name": "pts"}, "transform": [{"filter": "datum.panel == 'h'"}], "mark": {"type": "point", "shape": "circle", "filled": false, "size": 130, "stroke": "#111", "strokeWidth": 1.5, "opacity": 1}, "encoding": {"x": {"field": "p", "type": "ordinal", "scale": {"type": "point", "domain": ["P1", "P2", "P3", "P4", "P5", "P6"], "padding": 0.5}, "axis": {"orient": "top", "title": null, "labels": false}}, "y": {"field": "m", "type": "quantitative", "scale": {"domain": [0.85, 1.02], "nice": false, "zero": false}, "axis": {"orient": "right", "values": [0.9, 1], "labels": false, "title": null}}}}
          ]
        }
      ]
    }
  ],
  "config": {
    "font": "Liberation Sans",
    "view": {"stroke": "#333", "strokeWidth": 1.5},
    "axis": {"labelFont": "Liberation Sans", "labelFontSize": 21, "labelColor": "#111", "labelPadding": 9, "labelFlush": false, "labelOverlap": false, "titleFont": "Liberation Sans", "titleFontSize": 22, "titleFontWeight": "normal", "titleColor": "#111", "titleBaseline": "alphabetic", "titleAlign": "center", "titleAngle": -90, "grid": false, "domain": false, "ticks": true, "tickSize": -5, "tickColor": "#333", "tickWidth": 1.2},
    "title": {"anchor": "start", "frame": "group", "baseline": "alphabetic", "offset": 4, "font": "Lato", "fontSize": 23, "fontWeight": "normal", "color": "#111"}
  }
}
